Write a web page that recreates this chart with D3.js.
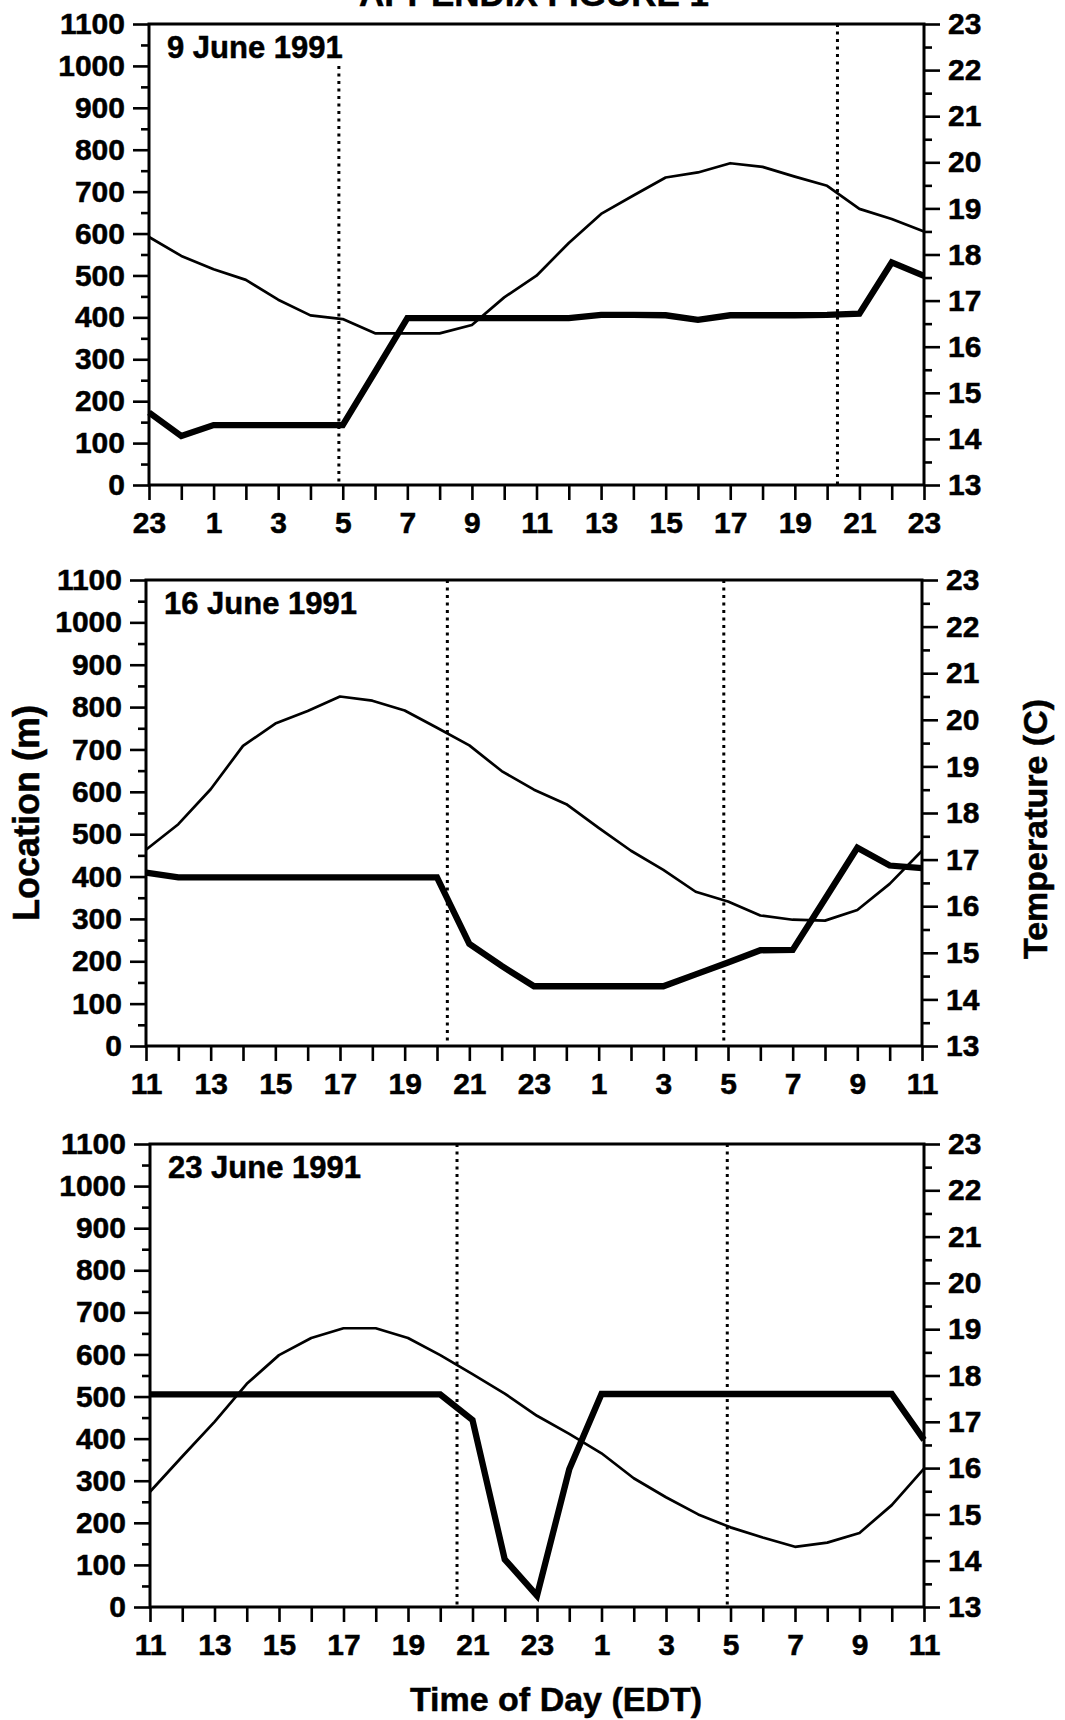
<!DOCTYPE html>
<html><head><meta charset="utf-8">
<script src="https://cdn.jsdelivr.net/npm/d3@7"></script>
<style>
body{margin:0;background:#fff;}
svg text{font-family:"Liberation Sans",Arial,Helvetica,sans-serif;font-weight:bold;fill:#000;stroke:#000;stroke-width:0.5px;}
</style></head><body>
<svg id="c" width="1065" height="1720"></svg>
<script>
// ---------- data ----------
const panelTitles = ["9 June 1991", "16 June 1991", "23 June 1991"];
const hourIndex = d3.range(25); // hours elapsed since the panel's start hour
const xTickLabels1 = ["23","1","3","5","7","9","11","13","15","17","19","21","23"];
const xTickLabels2 = ["11","13","15","17","19","21","23","1","3","5","7","9","11"];
const xTickLabels3 = ["11","13","15","17","19","21","23","1","3","5","7","9","11"];
const locTicks = [0,100,200,300,400,500,600,700,800,900,1000,1100];
const tempTicks = [13,14,15,16,17,18,19,20,21,22,23];

// temperature (C), thin line
const temp1 = [18.38,17.97,17.68,17.45,17.02,16.68,16.60,16.29,16.29,16.29,16.47,17.07,17.54,18.25,18.88,19.28,19.67,19.78,19.98,19.90,19.69,19.49,18.99,18.77,18.50];
const temp2 = [17.21,17.76,18.51,19.44,19.92,20.19,20.50,20.41,20.20,19.83,19.45,18.90,18.50,18.19,17.68,17.19,16.78,16.31,16.10,15.80,15.71,15.69,15.92,16.48,17.19];
const temp3 = [15.49,16.25,17.00,17.82,18.44,18.81,19.02,19.02,18.81,18.44,18.03,17.61,17.13,16.74,16.32,15.78,15.37,15.00,14.72,14.50,14.30,14.39,14.60,15.20,15.99];
// location (m), thick line
const loc1 = [173,117,143,143,143,143,143,270,398,398,398,398,398,398,406,406,405,394,405,405,405,406,409,531,499];
const loc2 = [409,398,398,398,398,398,398,398,398,398,241,189,141,141,141,141,141,169,197,226,227,347,468,426,420];
const loc3 = [505,505,505,505,505,505,505,505,505,505,444,113,27,327,506,506,506,506,506,506,506,506,506,506,397];
// sunset / sunrise markers (hours since start) and the location where each dotted line starts
const solar1 = [5.88, 21.32], solarTop1 = [1000, 1100];
const solar2 = [9.32, 17.87], solarTop2 = [1100, 1100];
const solar3 = [9.52, 17.90], solarTop3 = [1100, 1100];

// ---------- layout ----------
const layout = [
  {left:149, right:924, top:24,   bottom:485},
  {left:146, right:922, top:580,  bottom:1046},
  {left:150, right:924, top:1144, bottom:1607}
];
const panels = [
  {title:panelTitles[0], xl:xTickLabels1, temp:temp1, loc:loc1, solar:solar1, solarTop:solarTop1},
  {title:panelTitles[1], xl:xTickLabels2, temp:temp2, loc:loc2, solar:solar2, solarTop:solarTop2},
  {title:panelTitles[2], xl:xTickLabels3, temp:temp3, loc:loc3, solar:solar3, solarTop:solarTop3}
];

const svg = d3.select("#c");
const FS = 30;

panels.forEach((p, k) => {
  const L = layout[k];
  const x = d3.scaleLinear().domain([0,24]).range([L.left, L.right]);
  const yL = d3.scaleLinear().domain([0,1100]).range([L.bottom, L.top]);
  const yT = d3.scaleLinear().domain([13,23]).range([L.bottom, L.top]);
  const g = svg.append("g");

  const styleAxis = sel => {
    sel.select(".domain").remove();
    sel.selectAll(".tick line").attr("stroke","#000").attr("stroke-width",2.6);
    sel.selectAll(".tick text").attr("font-size",FS).attr("fill","#000");
  };

  // left axis
  g.append("g").attr("transform",`translate(${L.left},0)`)
    .call(d3.axisLeft(yL).tickValues(locTicks).tickSize(16).tickPadding(8).tickFormat(d3.format("d")))
    .call(styleAxis);
  g.append("g").attr("transform",`translate(${L.left},0)`)
    .call(d3.axisLeft(yL).tickValues(d3.range(50,1100,100)).tickSize(8).tickFormat(""))
    .call(styleAxis);
  // right axis
  g.append("g").attr("transform",`translate(${L.right},0)`)
    .call(d3.axisRight(yT).tickValues(tempTicks).tickSize(16).tickPadding(8).tickFormat(d3.format("d")))
    .call(styleAxis);
  g.append("g").attr("transform",`translate(${L.right},0)`)
    .call(d3.axisRight(yT).tickValues(d3.range(13.5,23,1)).tickSize(8).tickFormat(""))
    .call(styleAxis);
  // bottom axis
  g.append("g").attr("transform",`translate(0,${L.bottom})`)
    .call(d3.axisBottom(x).tickValues(hourIndex).tickSize(15).tickPadding(12)
      .tickFormat((d,i) => i % 2 === 0 ? p.xl[i/2] : ""))
    .call(styleAxis);

  // frame
  g.append("rect").attr("x",L.left).attr("y",L.top)
    .attr("width",L.right-L.left).attr("height",L.bottom-L.top)
    .attr("fill","none").attr("stroke","#000").attr("stroke-width",3);

  // dotted sunset / sunrise lines
  p.solar.forEach((s,i) => {
    g.append("line").attr("x1",x(s)).attr("x2",x(s))
      .attr("y1",yL(p.solarTop[i])).attr("y2",L.bottom)
      .attr("stroke","#000").attr("stroke-width",3).attr("stroke-dasharray","3,4.5");
  });

  // temperature (thin)
  g.append("path").datum(p.temp)
    .attr("d", d3.line().x((d,i)=>x(hourIndex[i])).y(d=>yT(d)))
    .attr("fill","none").attr("stroke","#000").attr("stroke-width",2.7).attr("stroke-linejoin","round");
  // location (thick)
  g.append("path").datum(p.loc)
    .attr("d", d3.line().x((d,i)=>x(hourIndex[i])).y(d=>yL(d)))
    .attr("fill","none").attr("stroke","#000").attr("stroke-width",6.3).attr("stroke-linejoin","miter");

  // panel title
  g.append("text").attr("x",L.left+18).attr("y",L.top+34)
    .attr("font-size",31).text(p.title);
});

// figure title (cut off at top, as in the source scan)
svg.append("text").attr("x",534).attr("y",6).attr("text-anchor","middle")
  .attr("font-size",35).text("APPENDIX FIGURE 1");

// axis titles
svg.append("text").attr("transform","translate(39,813) rotate(-90)")
  .attr("text-anchor","middle").attr("font-size",36).text("Location (m)");
svg.append("text").attr("transform","translate(1047,829) rotate(-90)")
  .attr("text-anchor","middle").attr("font-size",34).text("Temperature (C)");
svg.append("text").attr("x",556).attr("y",1711).attr("text-anchor","middle")
  .attr("font-size",34).text("Time of Day (EDT)");
</script>
</body></html>
